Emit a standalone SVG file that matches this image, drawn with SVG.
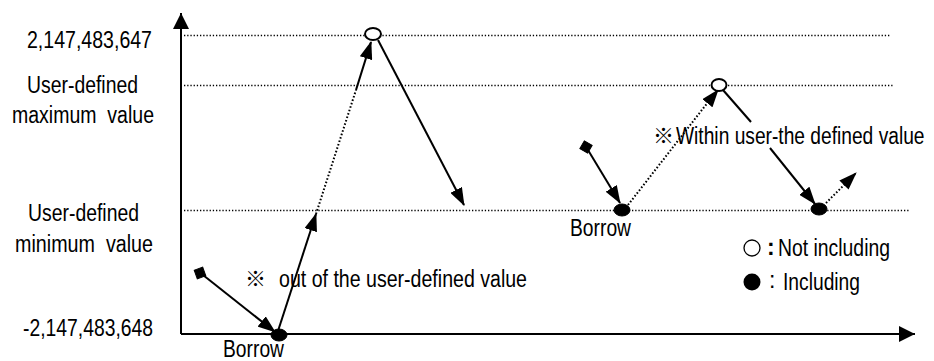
<svg xmlns="http://www.w3.org/2000/svg" width="934" height="361" viewBox="0 0 934 361">
<style>
text{font-family:"Liberation Sans Narrow","Liberation Sans",Arial,sans-serif;font-size:23px;fill:#000}
.km{font-family:"Noto Sans CJK JP","DejaVu Sans",sans-serif;font-size:21px}
.axis{stroke:#000;stroke-width:2;fill:none}
.guide{stroke:#000;stroke-width:1.3;stroke-dasharray:1.3 1.9;fill:none}
.solid{stroke:#000;stroke-width:2;fill:none}
.dot{stroke:#000;stroke-width:2;stroke-dasharray:1.6 2;fill:none}
.open{fill:#fff;stroke:#000;stroke-width:2}
.fill{fill:#000;stroke:#000;stroke-width:1}
</style>
<defs>
<marker id="arr" markerUnits="userSpaceOnUse" viewBox="0 0 18 13" refX="17" refY="6.5" markerWidth="18" markerHeight="13" orient="auto">
<path d="M0,0 L18,6.5 L0,13 z" fill="#000"/>
</marker>
<marker id="axarr" markerUnits="userSpaceOnUse" viewBox="0 0 16 16" refX="16" refY="8" markerWidth="16" markerHeight="16" orient="auto">
<path d="M0,0 L16,8 L0,16 z" fill="#000"/>
</marker>
</defs>
<rect width="934" height="361" fill="#fff"/>

<g id="axes">
<line class="axis" x1="181" y1="334" x2="181" y2="13" marker-end="url(#axarr)"/>
<line class="axis" x1="181" y1="334" x2="915" y2="334" marker-end="url(#axarr)"/>
<line class="guide" x1="184" y1="35.5" x2="890" y2="35.5"/>
<line class="guide" x1="184" y1="85.5" x2="894" y2="85.5"/>
<line class="guide" x1="184" y1="210.5" x2="910" y2="210.5"/>
</g>

<g id="axis-labels">
<text x="27" y="48" textLength="125" lengthAdjust="spacingAndGlyphs">2,147,483,647</text>
<text x="27" y="93" textLength="111" lengthAdjust="spacingAndGlyphs">User-defined</text>
<text x="12" y="123" textLength="142" lengthAdjust="spacingAndGlyphs" xml:space="preserve">maximum  value</text>
<text x="28" y="221" textLength="111" lengthAdjust="spacingAndGlyphs">User-defined</text>
<text x="15" y="252" textLength="138" lengthAdjust="spacingAndGlyphs" xml:space="preserve">minimum  value</text>
<text x="23" y="336" textLength="130" lengthAdjust="spacingAndGlyphs">-2,147,483,648</text>
</g>

<g id="connectors">
<line class="solid" x1="203" y1="275" x2="275" y2="332" marker-end="url(#arr)"/>
<line class="solid" x1="278" y1="331" x2="316" y2="214" marker-end="url(#arr)"/>
<line class="dot" x1="316" y1="214" x2="356" y2="90"/>
<line class="solid" x1="356" y1="90" x2="371" y2="42" marker-end="url(#arr)"/>
<line class="solid" x1="378" y1="40" x2="464" y2="205" marker-end="url(#arr)"/>
<line class="solid" x1="588" y1="150" x2="620" y2="203" marker-end="url(#arr)"/>
<line class="dot" x1="628" y1="205" x2="712" y2="97"/>
<line class="solid" x1="710" y1="100" x2="718" y2="90" marker-end="url(#arr)"/>
<line class="solid" x1="723" y1="90" x2="751" y2="122"/>
<line class="solid" x1="770" y1="148" x2="815" y2="204" marker-end="url(#arr)"/>
<line class="dot" x1="826" y1="203" x2="856" y2="173" marker-end="url(#arr)"/>
</g>

<g id="start-left">
<rect class="fill" x="195.5" y="268.5" width="9" height="9" transform="rotate(-20 200 273)"/>
</g>
<g id="borrow-left">
<ellipse class="fill" cx="279" cy="335" rx="8" ry="6"/>
<text x="223" y="357" textLength="61" lengthAdjust="spacingAndGlyphs">Borrow</text>
</g>
<g id="max-left">
<ellipse class="open" cx="373" cy="34" rx="8" ry="6"/>
</g>
<g id="note-left">
<text class="km" x="245" y="286">※</text>
<text x="279" y="287" textLength="248" lengthAdjust="spacingAndGlyphs">out of the user-defined value</text>
</g>

<g id="start-right">
<rect class="fill" x="581.5" y="142.5" width="9" height="9" transform="rotate(30 586 147)"/>
</g>
<g id="borrow-right">
<ellipse class="fill" cx="622" cy="210" rx="8" ry="6"/>
<text x="570" y="236" textLength="61" lengthAdjust="spacingAndGlyphs">Borrow</text>
</g>
<g id="max-right">
<ellipse class="open" cx="719" cy="85" rx="7.5" ry="6"/>
</g>
<g id="min-right">
<ellipse class="fill" cx="819" cy="209" rx="8" ry="6"/>
</g>
<g id="note-right">
<text class="km" x="653" y="143">※</text>
<text transform="translate(676 144) scale(0.8367 1)" x="0" y="0" textLength="297" lengthAdjust="spacingAndGlyphs">Within user-the defined value</text>
</g>

<g id="legend">
<circle cx="752" cy="248" r="8" fill="#fff" stroke="#000" stroke-width="1.3"/>
<text x="767" y="255" font-weight="bold">:</text>
<text x="778" y="256" textLength="112" lengthAdjust="spacingAndGlyphs">Not including</text>
<circle cx="752" cy="282" r="8.5" fill="#000"/>
<text x="769" y="288">:</text>
<text x="783" y="290" textLength="77" lengthAdjust="spacingAndGlyphs">Including</text>
</g>
</svg>
